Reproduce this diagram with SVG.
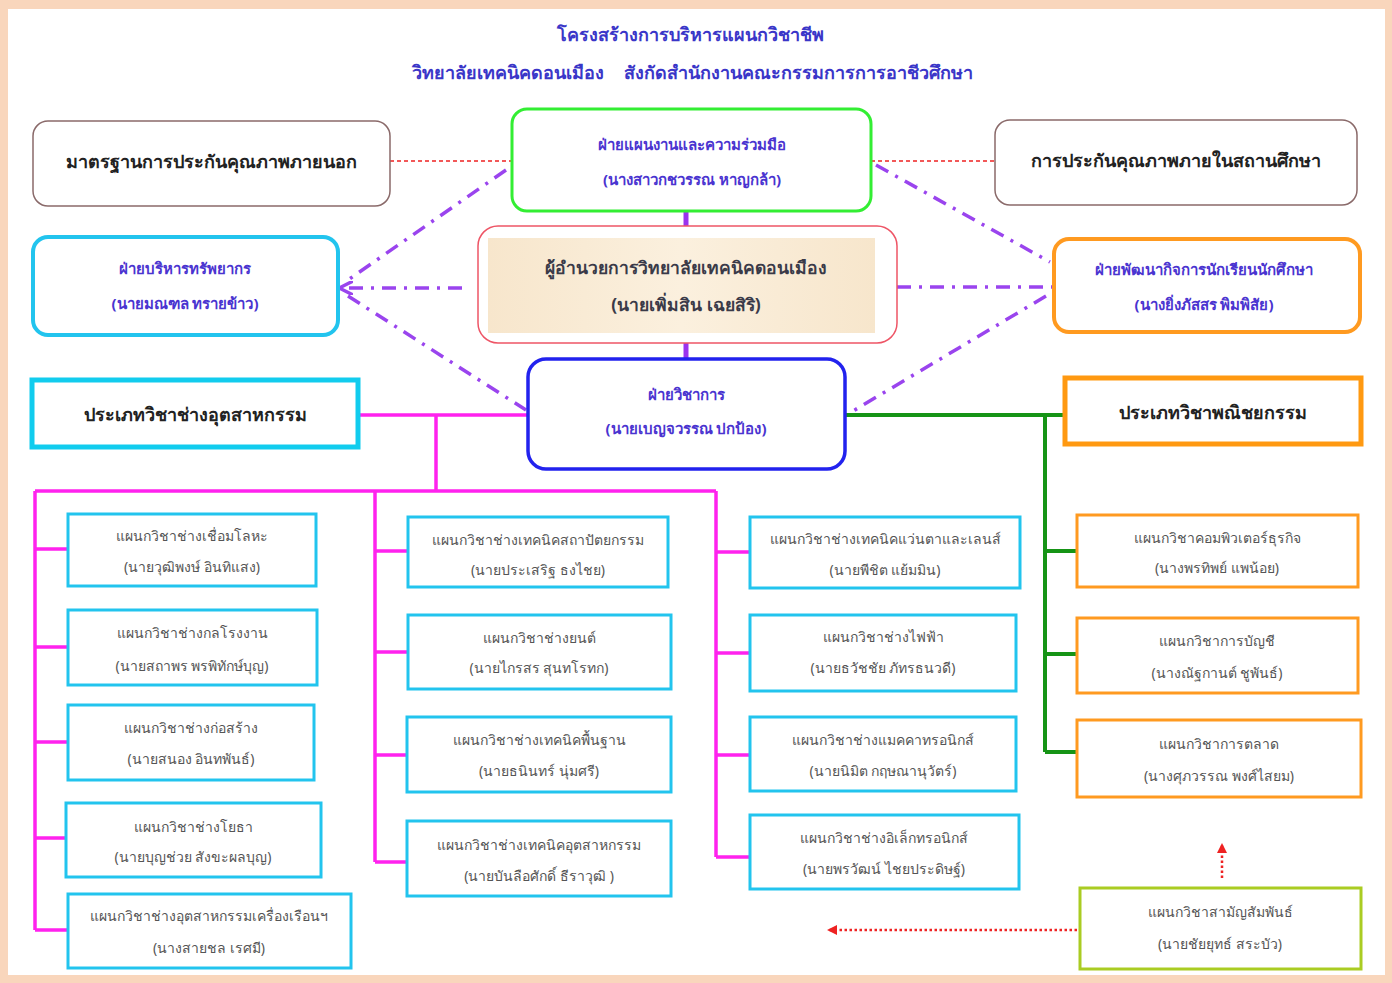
<svg xmlns="http://www.w3.org/2000/svg" width="1392" height="983" viewBox="0 0 1392 983">
<defs>
<style>
text{font-family:"Noto Sans","DejaVu Sans","Liberation Sans",sans-serif;text-anchor:middle;}
.title{font-size:18px;fill:#3a36c8;font-weight:bold;}
.blk{font-size:18px;fill:#222;font-weight:bold;}
.bl{font-size:15px;fill:#4a34d0;font-weight:bold;}
.dir{font-size:17.5px;fill:#3a3a48;font-weight:bold;}
.dep{font-size:14px;fill:#555;}
.cy{fill:#fff;stroke:#22c4ee;stroke-width:3;}
.or{fill:#fff;stroke:#ff9a20;stroke-width:3;}
.pk{stroke:#ff22ee;stroke-width:3.5;fill:none;}
.gr{stroke:#169416;stroke-width:4;fill:none;}
.dd{stroke:#9a44ee;stroke-width:3.5;fill:none;stroke-dasharray:14 8 3 8;}
.rd{stroke:#ee2222;stroke-width:1.5;fill:none;stroke-dasharray:4 3;}
.rdot{stroke:#ee2222;stroke-width:2.5;fill:none;stroke-dasharray:2.5 2.5;}
</style>
<marker id="pa" viewBox="0 0 10 10" refX="8" refY="5" markerWidth="4" markerHeight="4" orient="auto-start-reverse"><path d="M0,0 L10,5 L0,10" fill="none" stroke="#9a44ee" stroke-width="2.5"/></marker>
<marker id="ra" viewBox="0 0 10 10" refX="9" refY="5" markerWidth="4" markerHeight="4" orient="auto"><path d="M0,0 L10,5 L0,10 z" fill="#ee2222"/></marker>
<linearGradient id="bg" x1="0" y1="0" x2="1" y2="0"><stop offset="0" stop-color="#f7e6cc"/><stop offset="0.5" stop-color="#fbf0de"/><stop offset="1" stop-color="#f7e6cc"/></linearGradient>
</defs>
<rect x="0" y="0" width="1392" height="983" fill="#f9d6bc"/>
<rect x="8" y="9" width="1377" height="966" fill="#ffffff"/>
<g id="title">
<text class="title" x="690" y="41">โครงสร้างการบริหารแผนกวิชาชีพ</text>
<text class="title" x="508" y="79">วิทยาลัยเทคนิคดอนเมือง</text>
<text class="title" x="798" y="79">สังกัดสำนักงานคณะกรรมการการอาชีวศึกษา</text>
</g>
<g id="connectors">
<line class="rd" x1="390" y1="161" x2="512" y2="161"/>
<line class="rd" x1="871" y1="161" x2="995" y2="161"/>
<line x1="686" y1="211" x2="686" y2="226" stroke="#9a33ee" stroke-width="5"/>
<line x1="686" y1="343" x2="686" y2="359" stroke="#9a33ee" stroke-width="5"/>
<line class="dd" x1="462" y1="288" x2="342" y2="288" marker-end="url(#pa)"/>
<line class="dd" x1="506" y1="170" x2="348" y2="280"/>
<line class="dd" x1="348" y1="296" x2="526" y2="410"/>
<line class="dd" x1="876" y1="165" x2="1050" y2="262"/>
<line class="dd" x1="897" y1="287" x2="1054" y2="287"/>
<line class="dd" x1="1046" y1="296" x2="848" y2="414"/>
<polyline class="pk" points="358,415 528,415"/>
<polyline class="pk" points="436,415 436,491"/>
<polyline class="pk" points="35,491 716,491"/>
<polyline class="pk" points="35,491 35,930"/>
<polyline class="pk" points="375,491 375,862"/>
<polyline class="pk" points="716,491 716,857"/>
<path class="pk" d="M35,549H68M35,647H68M35,742H68M35,838H66M35,930H68M375,551H408M375,652H408M375,755H407M375,862H407M716,552H750M716,653H750M716,755H750M716,857H750"/>
<polyline class="gr" points="845,415 1065,415"/>
<polyline class="gr" points="1045,415 1045,752"/>
<path class="gr" d="M1045,551H1077M1045,654H1077M1045,752H1077"/>
<line class="rdot" x1="1222" y1="878" x2="1222" y2="844" marker-end="url(#ra)"/>
<line class="rdot" x1="1077" y1="930" x2="828" y2="930" marker-end="url(#ra)"/>
</g>
<g id="ext-qa">
<rect x="33" y="121" width="357" height="85" rx="15" fill="#fff" stroke="#8a6a6a" stroke-width="1.5"/>
<text class="blk" x="211" y="168">มาตรฐานการประกันคุณภาพภายนอก</text>
</g>
<g id="int-qa">
<rect x="995" y="120" width="362" height="85" rx="15" fill="#fff" stroke="#8a6a6a" stroke-width="1.5"/>
<text class="blk" x="1176" y="167">การประกันคุณภาพภายในสถานศึกษา</text>
</g>
<g id="plan">
<rect x="512" y="109" width="359" height="102" rx="15" fill="#fff" stroke="#33ee33" stroke-width="3"/>
<text class="bl" x="692" y="150">ฝ่ายแผนงานและความร่วมมือ</text>
<text class="bl" x="692" y="185">(นางสาวกชวรรณ หาญกล้า)</text>
</g>
<g id="resource">
<rect x="33" y="237" width="305" height="98" rx="15" fill="#fff" stroke="#22c4ee" stroke-width="4"/>
<text class="bl" x="185" y="274">ฝ่ายบริหารทรัพยากร</text>
<text class="bl" x="185" y="309">(นายมณฑล ทรายข้าว)</text>
</g>
<g id="director">
<rect x="478" y="226" width="419" height="117" rx="20" fill="#fff" stroke="#ee5566" stroke-width="1.5"/>
<rect x="488" y="238" width="387" height="95" fill="url(#bg)"/>
<text class="dir" x="686" y="274">ผู้อำนวยการวิทยาลัยเทคนิคดอนเมือง</text>
<text class="dir" x="686" y="311">(นายเพิ่มสิน เฉยสิริ)</text>
</g>
<g id="student">
<rect x="1054" y="239" width="306" height="93" rx="15" fill="#fff" stroke="#ff9a20" stroke-width="4"/>
<text class="bl" x="1204" y="275">ฝ่ายพัฒนากิจการนักเรียนนักศึกษา</text>
<text class="bl" x="1204" y="310">(นางยิ่งภัสสร พิมพิสัย)</text>
</g>
<g id="academic">
<rect x="528" y="359" width="317" height="110" rx="18" fill="#fff" stroke="#2222ee" stroke-width="3.5"/>
<text class="bl" x="686" y="400">ฝ่ายวิชาการ</text>
<text class="bl" x="686" y="434">(นายเบญจวรรณ ปกป้อง)</text>
</g>
<g id="industrial">
<rect x="32" y="380" width="326" height="67" fill="#fff" stroke="#11ccee" stroke-width="5"/>
<text class="blk" x="195" y="421">ประเภทวิชาช่างอุตสาหกรรม</text>
</g>
<g id="commerce">
<rect x="1065" y="378" width="296" height="66" fill="#fff" stroke="#ff9911" stroke-width="5"/>
<text class="blk" x="1213" y="419">ประเภทวิชาพณิชยกรรม</text>
</g>
<g id="d1"><rect class="cy" x="68" y="514" width="248" height="72"/><text class="dep" x="192" y="541">แผนกวิชาช่างเชื่อมโลหะ</text><text class="dep" x="192" y="572">(นายวุฒิพงษ์ อินทิแสง)</text></g>
<g id="d2"><rect class="cy" x="68" y="610" width="249" height="75"/><text class="dep" x="192" y="638">แผนกวิชาช่างกลโรงงาน</text><text class="dep" x="192" y="671">(นายสถาพร พรพิทักษ์บุญ)</text></g>
<g id="d3"><rect class="cy" x="68" y="705" width="246" height="75"/><text class="dep" x="191" y="733">แผนกวิชาช่างก่อสร้าง</text><text class="dep" x="191" y="764">(นายสนอง อินทพันธ์)</text></g>
<g id="d4"><rect class="cy" x="66" y="803" width="255" height="74"/><text class="dep" x="193" y="832">แผนกวิชาช่างโยธา</text><text class="dep" x="193" y="862">(นายบุญช่วย สังขะผลบุญ)</text></g>
<g id="d5"><rect class="cy" x="68" y="894" width="283" height="74"/><text class="dep" x="209" y="921">แผนกวิชาช่างอุตสาหกรรมเครื่องเรือนฯ</text><text class="dep" x="209" y="953">(นางสายชล เรศมี)</text></g>
<g id="d6"><rect class="cy" x="408" y="517" width="260" height="70"/><text class="dep" x="538" y="545">แผนกวิชาช่างเทคนิคสถาปัตยกรรม</text><text class="dep" x="538" y="575">(นายประเสริฐ ธงไชย)</text></g>
<g id="d7"><rect class="cy" x="408" y="615" width="263" height="74"/><text class="dep" x="539" y="643">แผนกวิชาช่างยนต์</text><text class="dep" x="539" y="673">(นายไกรสร สุนทโรทก)</text></g>
<g id="d8"><rect class="cy" x="407" y="717" width="264" height="75"/><text class="dep" x="539" y="745">แผนกวิชาช่างเทคนิคพื้นฐาน</text><text class="dep" x="539" y="776">(นายธนินทร์ นุ่มศรี)</text></g>
<g id="d9"><rect class="cy" x="407" y="821" width="264" height="75"/><text class="dep" x="539" y="850">แผนกวิชาช่างเทคนิคอุตสาหกรรม</text><text class="dep" x="539" y="881">(นายบันลือศักดิ์ ธีราวุฒิ )</text></g>
<g id="d10"><rect class="cy" x="750" y="517" width="270" height="71"/><text class="dep" x="885" y="544">แผนกวิชาช่างเทคนิคแว่นตาและเลนส์</text><text class="dep" x="885" y="575">(นายพีชิต แย้มมิน)</text></g>
<g id="d11"><rect class="cy" x="750" y="615" width="266" height="76"/><text class="dep" x="883" y="642">แผนกวิชาช่างไฟฟ้า</text><text class="dep" x="883" y="673">(นายธวัชชัย ภัทรธนวดี)</text></g>
<g id="d12"><rect class="cy" x="750" y="717" width="266" height="74"/><text class="dep" x="883" y="745">แผนกวิชาช่างแมคคาทรอนิกส์</text><text class="dep" x="883" y="776">(นายนิมิต กฤษณานุวัตร์)</text></g>
<g id="d13"><rect class="cy" x="750" y="815" width="269" height="74"/><text class="dep" x="884" y="843">แผนกวิชาช่างอิเล็กทรอนิกส์</text><text class="dep" x="884" y="874">(นายพรวัฒน์ ไชยประดิษฐ์)</text></g>
<g id="d14"><rect class="or" x="1077" y="515" width="281" height="72"/><text class="dep" x="1217" y="543">แผนกวิชาคอมพิวเตอร์ธุรกิจ</text><text class="dep" x="1217" y="573">(นางพรทิพย์ แพน้อย)</text></g>
<g id="d15"><rect class="or" x="1077" y="618" width="281" height="75"/><text class="dep" x="1217" y="646">แผนกวิชาการบัญชี</text><text class="dep" x="1217" y="678">(นางณัฐกานต์ ชูพันธ์)</text></g>
<g id="d16"><rect class="or" x="1077" y="720" width="284" height="77"/><text class="dep" x="1219" y="749">แผนกวิชาการตลาด</text><text class="dep" x="1219" y="781">(นางศุภวรรณ พงศ์ไสยม)</text></g>
<g id="d17"><rect x="1080" y="888" width="281" height="81" fill="#fff" stroke="#aacc22" stroke-width="3"/><text class="dep" x="1220" y="917">แผนกวิชาสามัญสัมพันธ์</text><text class="dep" x="1220" y="949">(นายชัยยุทธ์ สระบัว)</text></g>
</svg>
